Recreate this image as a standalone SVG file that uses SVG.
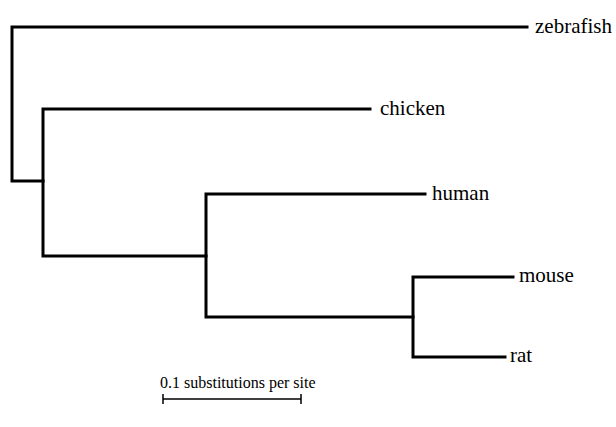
<svg xmlns="http://www.w3.org/2000/svg" width="616" height="427" viewBox="0 0 616 427">
<style>
.br{fill:none;stroke:#000;stroke-width:3;stroke-linecap:square;stroke-linejoin:miter}
.lb{font-family:"Liberation Serif","DejaVu Serif",serif;font-size:21px;fill:#000}
.sc{font-family:"Liberation Serif","DejaVu Serif",serif;font-size:16px;fill:#000}
</style>
<rect width="616" height="427" fill="#fff"/>
<g id="connectors">
<polyline class="br" points="527,27 12,27 12,181 43,181"/>
<polyline class="br" points="370,109 43,109 43,256 206,256"/>
<polyline class="br" points="425,194 206,194 206,317 413,317"/>
<polyline class="br" points="513,277 413,277 413,357 505,357"/>
</g>
<g id="zebrafish"><text class="lb" x="535" y="33">zebrafish</text></g>
<g id="chicken"><text class="lb" x="380" y="115">chicken</text></g>
<g id="human"><text class="lb" x="432" y="200">human</text></g>
<g id="mouse"><text class="lb" x="519" y="282">mouse</text></g>
<g id="rat"><text class="lb" x="510" y="362">rat</text></g>
<g id="scale">
<text class="sc" x="160" y="388">0.1 substitutions per site</text>
<path d="M163,399H301M163,394V404M301,394V404" fill="none" stroke="#000" stroke-width="1.5"/>
</g>
</svg>
